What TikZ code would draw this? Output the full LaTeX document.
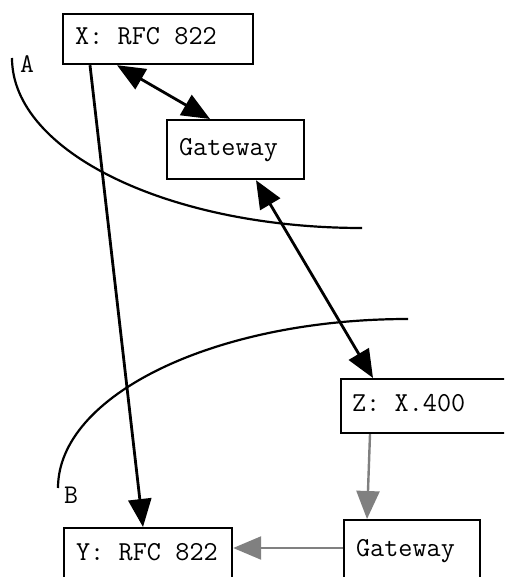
\documentclass[tikz,border=0pt]{standalone}
\usepackage{fontspec}
\usetikzlibrary{arrows.meta,calc}
\definecolor{arrgray}{RGB}{128,128,128}
\newcommand\diagboxfont{\ttfamily\fontsize{27.4}{30}\selectfont}
\newcommand\diaglblfont{\ttfamily\fontsize{27}{29}\selectfont}
\newcommand\diaggap{\hspace*{0.525em}}
\tikzset{
  box/.style={draw, line width=2.2pt, fill=white, anchor=north west, inner xsep=12pt, inner ysep=0pt,
    font=\diagboxfont, text height=15.5pt, text depth=4pt},
  blkarrow/.style={line width=2.8pt, black, -{Triangle[length=28pt,width=23pt]}},
  blkdouble/.style={line width=2.8pt, black, {Triangle[length=28pt,width=23pt]}-{Triangle[length=28pt,width=23pt]}},
  grayarrow/.style={line width=2.4pt, arrgray, -{Triangle[length=28pt,width=23pt]}},
  boundary/.style={line width=2.2pt, black},
  lbl/.style={font=\diaglblfont, inner sep=0pt}
}
\begin{document}
\begin{tikzpicture}[x=1pt,y=-1pt]
\clip (0,0) rectangle (504,577);
\fill[white] (0,0) rectangle (504,577);
% boundary curves
\draw[boundary] (12,58) .. controls (12,152) and (169,228) .. (362,228);
\draw[boundary] (58,488) .. controls (58,395) and (215,319) .. (408,319);
\node[lbl] (la) at (27,64) {A};
\node[lbl] (lb) at (71,495) {B};
% boxes
\node[box, text width=166pt, minimum height=50pt] (X) at (62,13) {X:\diaggap RFC\diaggap 822};
\node[box, text width=113pt, minimum height=59pt] (G1) at (166,119) {Gateway};
\node[box, text width=166pt, minimum height=54pt, inner xsep=11pt] (Z) at (340,378) {Z:\diaggap X.400};
\node[box, text width=112pt, minimum height=62pt] (G2) at (343,519) {Gateway};
\node[box, text width=144pt, minimum height=54pt] (Y) at (63,527) {Y:\diaggap RFC\diaggap 822};
% connectors
\draw[blkdouble] ($(X.south west)+(55,0)$) -- ($(G1.north west)+(44,0)$);
\draw[blkarrow] ($(X.south west)+(28,0)$) -- ($(Y.north west)+(80,0)$);
\draw[blkdouble] ($(G1.south west)+(90,0)$) -- ($(Z.north west)+(33,0)$);
\draw[grayarrow] ($(Z.south west)+(30,0)$) -- ($(G2.north west)+(24,0)$);
\draw[grayarrow] ($(G2.north west)+(0,29)$) -- ($(Y.north east)+(0,21)$);
\end{tikzpicture}
\end{document}
